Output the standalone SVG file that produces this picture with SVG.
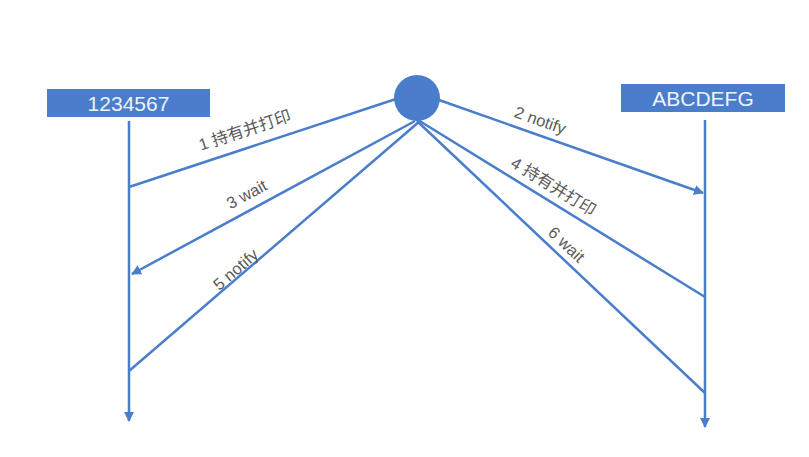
<svg xmlns="http://www.w3.org/2000/svg" width="809" height="457" viewBox="0 0 809 457">
<style>
.box{fill:#4a7dcb}
.bt{fill:#eef3fb;font-family:"Liberation Sans","Noto Sans CJK SC",sans-serif;font-size:21px;text-anchor:middle}
.ln{stroke:#4a7dcb;stroke-width:2.5;fill:none}
.lb{fill:#5a5a5a;font-family:"Liberation Sans","Noto Sans CJK SC",sans-serif;font-size:16.5px;text-anchor:middle}
</style>
<defs>
<marker id="ah" viewBox="0 0 10 10" refX="9" refY="5" markerWidth="4" markerHeight="4" orient="auto" markerUnits="strokeWidth">
<path d="M0,0 L10,5 L0,10 z" fill="#4a7dcb"/>
</marker>
</defs>
<rect width="809" height="457" fill="#ffffff"/>
<g id="node-1234567">
<rect class="box" x="47" y="89" width="163" height="28"/>
<text class="bt" x="128.5" y="110.5">1234567</text>
</g>
<g id="node-ABCDEFG">
<rect class="box" x="621" y="84" width="164" height="28"/>
<text class="bt" x="703" y="105.5">ABCDEFG</text>
</g>
<g id="node-lock">
<circle cx="417" cy="98" r="23" fill="#4a7dcb"/>
</g>
<g id="connectors">
<line class="ln" x1="129" y1="121" x2="129" y2="421" marker-end="url(#ah)"/>
<line class="ln" x1="705" y1="120" x2="705" y2="427" marker-end="url(#ah)"/>
<line class="ln" x1="396" y1="99" x2="129" y2="187"/>
<line class="ln" x1="415" y1="121" x2="132" y2="274" marker-end="url(#ah)"/>
<line class="ln" x1="420" y1="121" x2="129" y2="371"/>
<line class="ln" x1="439" y1="100" x2="703" y2="193" marker-end="url(#ah)"/>
<line class="ln" x1="418" y1="120" x2="705" y2="297"/>
<line class="ln" x1="417" y1="121" x2="705" y2="393"/>
</g>
<g id="labels">
<text class="lb" transform="translate(245,131) rotate(-18.3)" y="5">1 持有并打印</text>
<text class="lb" transform="translate(247,195) rotate(-28.3)" y="5">3 wait</text>
<text class="lb" transform="translate(236,270) rotate(-40.8)" y="5">5 notify</text>
<text class="lb" transform="translate(540,121) rotate(19.5)" y="5">2 notify</text>
<text class="lb" transform="translate(553,187) rotate(31.7)" y="5">4 持有并打印</text>
<text class="lb" transform="translate(566,245) rotate(43.4)" y="5">6 wait</text>
</g>
</svg>
